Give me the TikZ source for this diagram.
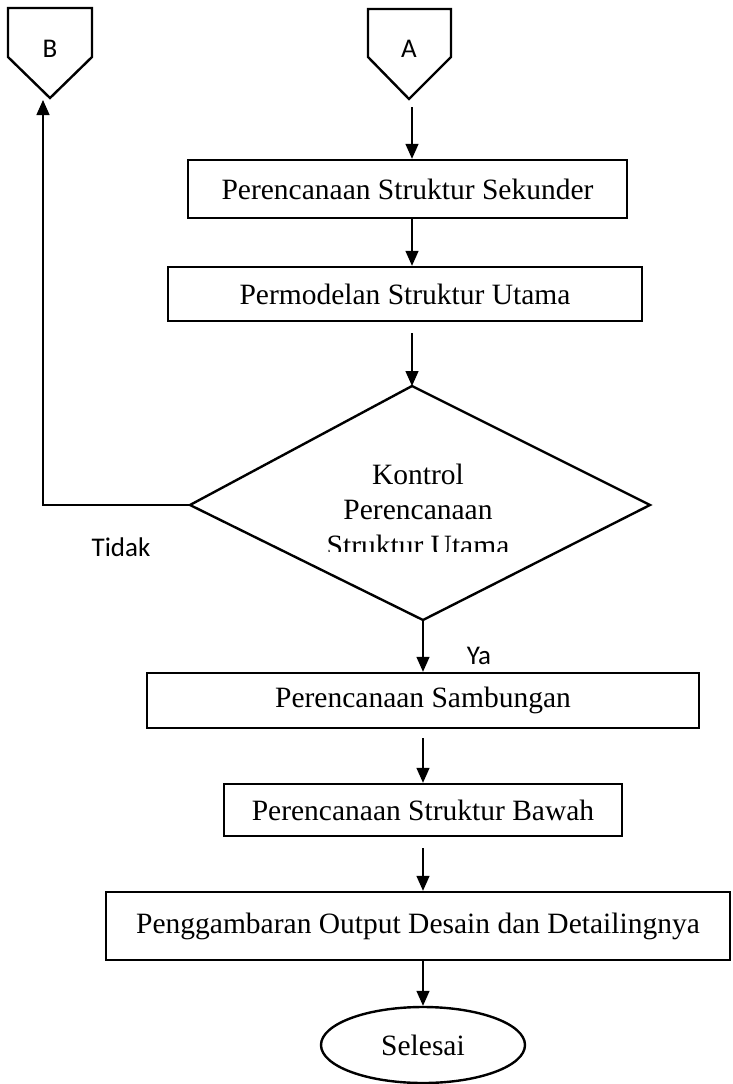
\documentclass[tikz,border=0pt]{standalone}
\usepackage{fontspec}
\setmainfont{Liberation Serif}
\newfontfamily\calib{Carlito}
\usetikzlibrary{arrows.meta,shapes.geometric}
\begin{document}
\begin{tikzpicture}[x=1pt,y=-1pt,
 boxline/.style={line width=2.4pt,line join=miter},
 procbox/.style={draw,line width=2.4pt,rectangle,inner sep=0pt,font=\fontsize{29.5}{34}\selectfont},
 dtxt/.style={inner sep=0pt,anchor=base,font=\fontsize{29.5}{34}\selectfont},
 arr/.style={line width=1.4pt,-{Triangle[length=15pt,width=13pt]}},
 lbl/.style={font=\calib\fontsize{27}{30}\selectfont,inner sep=0pt}]
\useasboundingbox (0,0) rectangle (732,1084);
% off-page connectors
\draw[boxline] (8,8) -- (92,8) -- (92,57) -- (50,98) -- (8,57) -- cycle;
\node[lbl] (B) at (50,49) {B};
\draw[boxline] (368,9) -- (451,9) -- (451,57) -- (409,99) -- (368,57) -- cycle;
\node[lbl] (A) at (409,49) {A};
\coordinate (Aout) at (412,107);
\coordinate (Bin) at (43,100);
% process boxes
\node[procbox,minimum width=439pt,minimum height=58pt] (b1) at (407.5,189) {Perencanaan Struktur Sekunder};
\node[procbox,minimum width=474pt,minimum height=54pt] (b2) at (405,294) {Permodelan Struktur Utama};
% decision
\coordinate (dtop) at (412,386);
\coordinate (dright) at (650,505);
\coordinate (dbot) at (423,620);
\coordinate (dleft) at (190,505);
\draw[boxline] (dtop) -- (dright) -- (dbot) -- (dleft) -- cycle;
\node[dtxt] (d1) at (418,484) {Kontrol};
\node[dtxt] (d2) at (418,519) {Perencanaan};
\begin{scope}
\clip (300,520) rectangle (540,551);
\node[dtxt] (d3) at (418,555) {Struktur Utama};
\end{scope}
\node[procbox,minimum width=552pt,minimum height=55pt] (b3) at (423,700.5) {Perencanaan Sambungan};
\node[procbox,minimum width=398pt,minimum height=52pt] (b4) at (423,810) {Perencanaan Struktur Bawah};
\node[procbox,minimum width=624pt,minimum height=68pt] (b5) at (418,926) {Penggambaran Output Desain dan Detailingnya};
\node[draw,ellipse,line width=2.4pt,minimum width=204pt,minimum height=76pt,inner sep=0pt,font=\fontsize{29.5}{34}\selectfont] (end) at (423,1045) {Selesai};
% connectors
\draw[arr] (Aout) -- (Aout |- b1.north);
\draw[arr] (b1.south -| Aout) -- (b2.north -| Aout);
\draw[arr] ([yshift=-11pt]b2.south -| dtop) -- (dtop);
\draw[arr] (dbot) -- (b3.north -| dbot);
\draw[arr] ([yshift=-9pt]b3.south -| dbot) -- (b4.north -| dbot);
\draw[arr] ([yshift=-11pt]b4.south -| dbot) -- (b5.north -| dbot);
\draw[arr] (b5.south -| dbot) -- (end.north -| dbot);
\draw[arr] (dleft) -- (dleft -| Bin) -- (Bin);
% labels
\node[lbl] (tidak) at (121,547) {Tidak};
\node[lbl] (ya) at (479,656) {Ya};
\end{tikzpicture}
\end{document}
